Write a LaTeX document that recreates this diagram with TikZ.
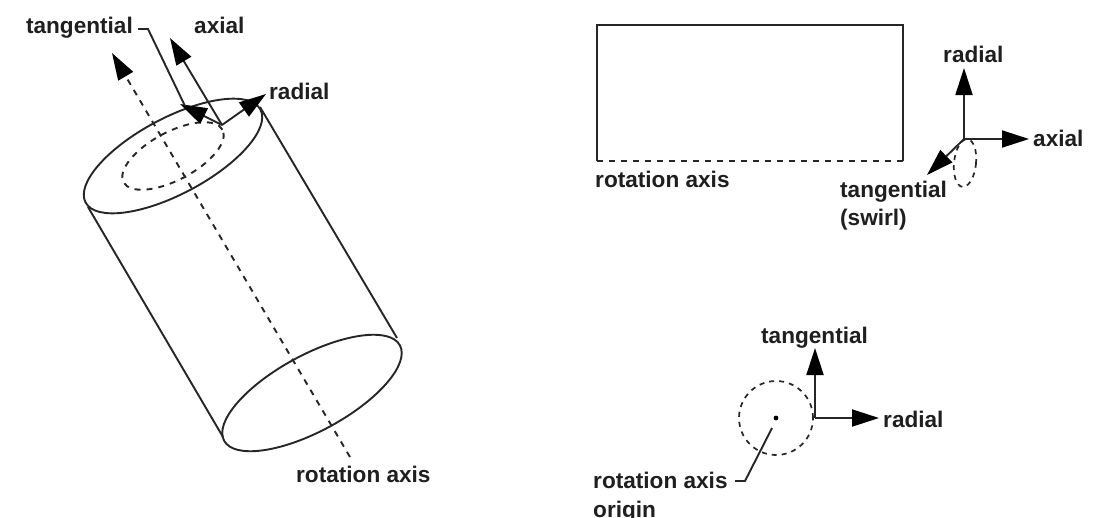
\documentclass[tikz,border=0pt]{standalone}
\usepackage{fontspec}
\setmainfont{Liberation Sans}
\usetikzlibrary{arrows.meta}
\tikzset{
  lab/.style={anchor=base west,inner sep=0pt,font=\fontsize{22.6}{26}\selectfont\bfseries,text=black!88},
  line/.style={draw=black!85,line width=1.9pt},
  dashline/.style={draw=black!85,line width=1.9pt,dash pattern=on 6pt off 6pt},
  dashthin/.style={draw=black!85,line width=1.7pt,dash pattern=on 5pt off 5pt},
  vec/.style={line,-{Triangle[length=27pt,width=17pt,color=black]}}
}
\begin{document}
\begin{tikzpicture}[x=1pt,y=-1pt]
\useasboundingbox (0,0) rectangle (1099,517);
\clip (0,0) rectangle (1099,517);
\fill[white] (0,0) rectangle (1099,517);
% cylinder
\coordinate (ct) at (173,156);
\coordinate (cb) at (312,393);
\draw[line,rotate around={28:(ct)}] (ct) ellipse [x radius=99pt,y radius=38pt];
\draw[line,rotate around={28.5:(cb)}] (cb) ellipse [x radius=100pt,y radius=38pt];
\draw[dashline,rotate around={28:(ct)}] (ct) ellipse [x radius=56pt,y radius=24pt];
\coordinate (sl1) at (88,207);
\coordinate (sl2) at (223,437);
\coordinate (sr1) at (260,107);
\coordinate (sr2) at (397,338);
\draw[line] (sl1) -- (sl2);
\draw[line] (sr1) -- (sr2);
\coordinate (ax1) at (350,457);
\coordinate (ax2) at (112,53);
\draw[dashline,-{Triangle[length=27pt,width=17pt,color=black]}] (ax1) -- (ax2);
\coordinate (o1) at (222,125);
\coordinate (tAxial) at (170,38);
\coordinate (tRadial) at (266,94);
\coordinate (tTan) at (180,104);
\draw[vec] (o1) -- (tAxial);
\draw[vec] (o1) -- (tRadial);
\draw[vec] (o1) -- (tTan);
\node[lab,anchor=base east] (n1) at (133,33) {tangential};
\coordinate (lead0) at (138,29);
\coordinate (lead1) at (148,29);
\coordinate (lead2) at (185,106);
\draw[line] (lead0) -- (lead1) -- (lead2);
\node[lab] (n2) at (194,33) {axial};
\node[lab] (n3) at (269,99) {radial};
\node[lab] (n4) at (296,482) {rotation axis};
% rectangle
\coordinate (r1) at (597,161);
\coordinate (r2) at (597,25);
\coordinate (r3) at (903,25);
\coordinate (r4) at (903,161);
\draw[line] (r1) -- (r2) -- (r3) -- (r4);
\draw[dashline] (r1) -- (r4);
\node[lab] (n5) at (595,187) {rotation axis};
\coordinate (o2) at (964,139);
\coordinate (o2r) at (964,68);
\coordinate (o2a) at (1029,139);
\coordinate (o2t) at (927,175);
\draw[vec] (o2) -- (o2r);
\draw[vec] (o2) -- (o2a);
\draw[vec] (o2) -- (o2t);
\coordinate (o2e) at (965,163);
\draw[dashthin,rotate around={-6:(o2e)}] (o2e) ellipse [x radius=11pt,y radius=24pt];
\node[lab] (n6) at (943,62) {radial};
\node[lab] (n7) at (1033,146) {axial};
\node[lab] (n8) at (840,197) {tangential};
\node[lab] (n9) at (840,225) {(swirl)};
% circle
\coordinate (cc) at (776,418);
\draw[dashthin] (cc) circle [radius=37pt];
\fill[black] (cc) circle [radius=2.4pt];
\coordinate (o3) at (815,418);
\coordinate (o3t) at (815,348);
\coordinate (o3r) at (879,418);
\draw[vec] (o3) -- (o3t);
\draw[vec] (o3) -- (o3r);
\node[lab] (n10) at (761,343) {tangential};
\node[lab] (n11) at (883,427) {radial};
\node[lab] (n12) at (593,488) {rotation axis};
\node[lab] (n13) at (593,517) {origin};
\coordinate (l3a) at (735,481);
\coordinate (l3b) at (745,481);
\coordinate (l3c) at (772,428);
\draw[line] (l3a) -- (l3b) -- (l3c);
\end{tikzpicture}
\end{document}
